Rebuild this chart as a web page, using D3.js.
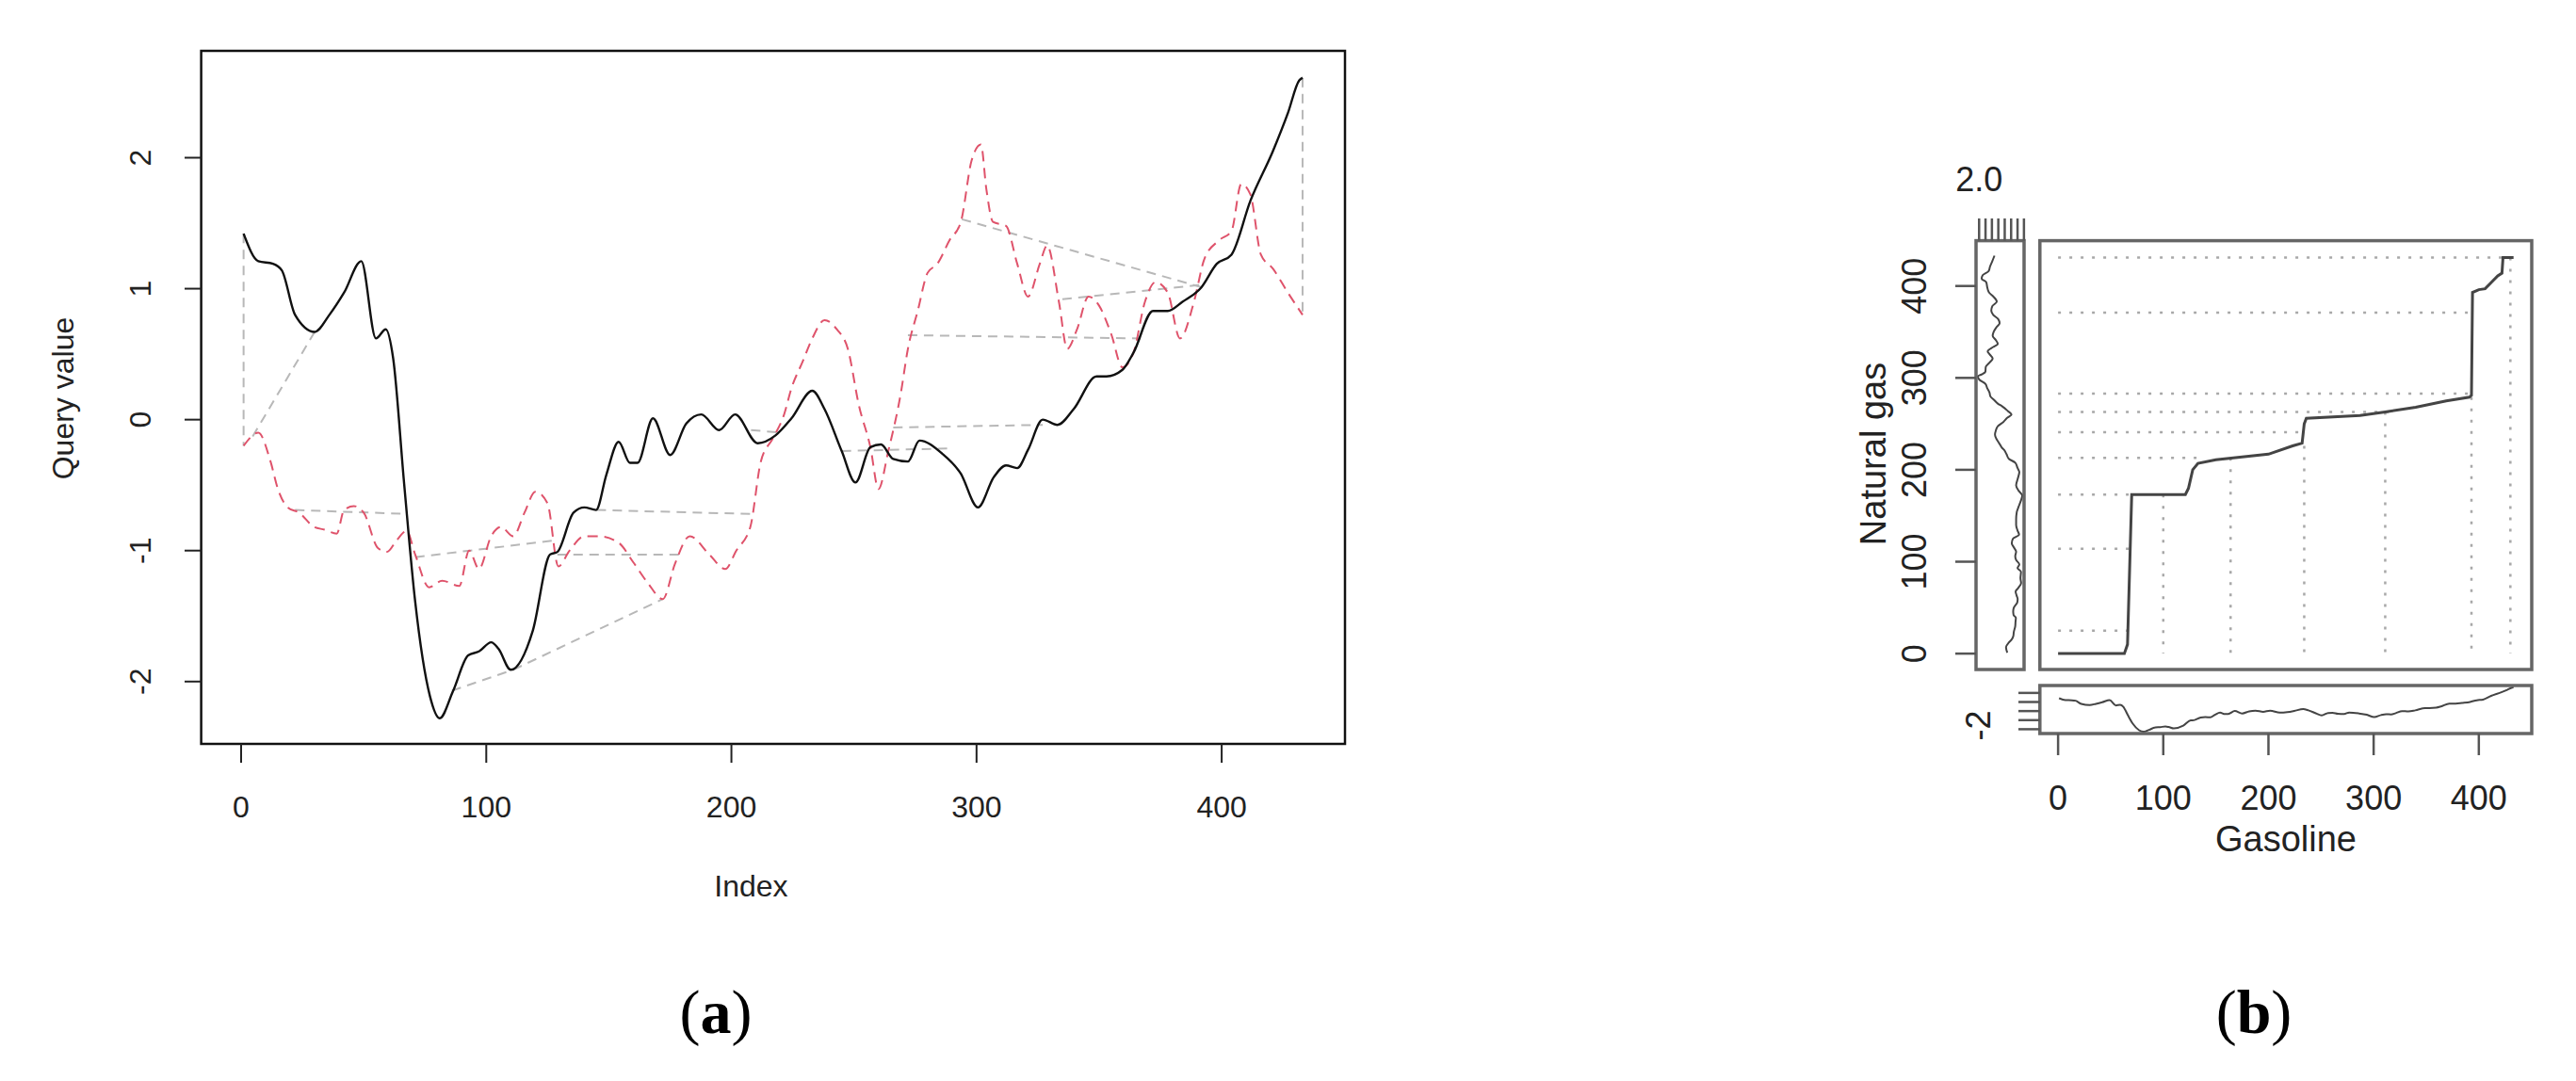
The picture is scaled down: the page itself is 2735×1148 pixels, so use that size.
<!DOCTYPE html>
<html><head><meta charset="utf-8">
<script src="https://cdn.jsdelivr.net/npm/d3@7"></script>
<style>body{margin:0;background:#fff}svg{display:block}text{font-family:"Liberation Sans",Arial,sans-serif}text.lab{font-family:"Liberation Serif","Times New Roman",serif}</style>
</head><body>
<svg id="c" width="2735" height="1148"></svg>
<script>
// Query (gasoline, black) series: index / value
const queryIdx = [1,7,13,16.6,22,30,36,42,49,55,59,62,66.5,71,77,81,86.5,92.6,97,102,105,110,119,126,129,135.6,140,144.8,149,154,158.6,161.7,168,175,181.6,187.7,195,201.5,210.7,218,224.5,233,238,245,250.6,256.7,261,266,272,276.7,286,293.5,300.6,307,312,316.6,321,327,333,339.6,349,353,359.5,364,372,378,384,391.7,398,404,411.7,420.9,427,431.6,433];
const queryVal = [1.42,1.21,1.19,1.14,0.80,0.67,0.80,0.97,1.21,0.62,0.69,0.47,-0.49,-1.39,-2.11,-2.28,-2.07,-1.80,-1.77,-1.70,-1.75,-1.91,-1.61,-1.03,-1.01,-0.71,-0.67,-0.69,-0.42,-0.17,-0.33,-0.33,0.01,-0.27,-0.03,0.04,-0.08,0.04,-0.18,-0.12,0.01,0.22,0.08,-0.24,-0.48,-0.21,-0.19,-0.30,-0.32,-0.16,-0.26,-0.41,-0.67,-0.44,-0.35,-0.37,-0.23,0.00,-0.04,0.08,0.33,0.33,0.38,0.51,0.83,0.83,0.90,1.01,1.19,1.26,1.67,2.05,2.34,2.59,2.61];
// Reference (natural gas, red dashed) series
const refIdx = [1,7,12,15,19,23.6,29.8,34,39,42,46,50,55.8,59.5,63.5,67.5,71,76.7,82,89,93,97,102,106,111,115.6,120,125,129.4,134,140,146,154,160,166,172,177,183,191,197.5,202,207.7,212,217,221.5,224.5,229,233,238,243,247.5,252,256.7,260,264,269,272,276,280,284,289,293.6,298,301.8,304,306.7,312,316.6,321,325.8,328.8,333.6,337,341,345.7,350,355,359.5,364,368.7,373,378,383,388.7,393,399,404,408,411.7,416,421,427,433];
const refVal = [-0.20,-0.10,-0.32,-0.53,-0.67,-0.71,-0.82,-0.84,-0.87,-0.69,-0.66,-0.71,-0.98,-1.01,-0.92,-0.85,-1.03,-1.28,-1.23,-1.27,-1.00,-1.14,-0.89,-0.82,-0.89,-0.71,-0.55,-0.64,-1.12,-1.00,-0.89,-0.89,-0.94,-1.09,-1.25,-1.37,-1.10,-0.89,-1.03,-1.14,-1.00,-0.82,-0.32,-0.14,0.04,0.24,0.44,0.62,0.76,0.69,0.54,0.11,-0.21,-0.53,-0.24,0.19,0.54,0.83,1.12,1.19,1.37,1.51,1.98,2.10,1.76,1.51,1.48,1.19,0.94,1.19,1.33,0.90,0.54,0.69,0.94,0.87,0.65,0.40,0.51,0.90,1.05,0.97,0.62,0.90,1.23,1.37,1.44,1.80,1.72,1.26,1.15,0.97,0.80];
// DTW match connectors in panel (a): [index1, value1, index2, value2]
const connectors = [[1,1.42,1,-0.20],[30,0.67,4,-0.15],[22,-0.69,68,-0.72],[71,-1.05,129,-0.92],[129,-1.03,180,-1.03],[145,-0.69,208,-0.72],[86,-2.07,111,-1.91],[111,-1.91,172,-1.37],[208,-0.08,221,-0.10],[245,-0.24,288,-0.22],[266,-0.06,327,-0.04],[272,0.645,367,0.62],[294,1.53,392,1.01],[335,0.92,392,1.03],[433,2.61,433,0.80]];
// Warping path in panel (b): gasoline index / natural gas index
const warpX = [0,63,66,70,121,124,128,133,150,200,223,232,234,236,287,311,340,369,391,393,394,400,406,412,418,422,423,433];
const warpY = [0,0,10,173,173,180,200,207,211,217,226,229,250,256,259,263,268,275,279,281,393,396,397,404,411,414,431,431];
// Dotted guides in panel (b)
const hGuideY = [431,371,283,263,241,213,173,114,25];
const hGuideEnd = [425,393,391,320,234,133,70,70,68];
const vGuideX = [100,164,234,311,393,430];
const vGuideTop = [173,213,226,263,279,431];
const tickA_X = [0,100,200,300,400], tickA_Y = [-2,-1,0,1,2];
const tickB = [0,100,200,300,400];
const tickLeftTop = [2.0,1.5,1.0,0.5,0.0,-0.5,-1.0,-1.5];
const tickBottomLeft = [-2,-1,0,1,2];

const svg = d3.select("#c");
const q = queryIdx.map((d,i)=>[d,queryVal[i]]);
const r = refIdx.map((d,i)=>[d,refVal[i]]);

// ---------- Panel (a)
const xA = d3.scaleLinear().domain([-16.3,450.3]).range([213.6,1428]);
const yA = d3.scaleLinear().domain([-2.476,2.816]).range([790,54]);
const gA = svg.append("g");
const lineA = d3.line().x(d=>xA(d[0])).y(d=>yA(d[1])).curve(d3.curveMonotoneX);
gA.selectAll("line.con").data(connectors).join("line")
  .attr("x1",d=>xA(d[0])).attr("y1",d=>yA(d[1])).attr("x2",d=>xA(d[2])).attr("y2",d=>yA(d[3]))
  .attr("stroke","#b8b8b8").attr("stroke-width",2).attr("stroke-dasharray","10,7");
gA.append("path").datum(r).attr("d",lineA).attr("fill","none").attr("stroke","#df536b").attr("stroke-width",2).attr("stroke-dasharray","11,7");
gA.append("path").datum(q).attr("d",lineA).attr("fill","none").attr("stroke","#111").attr("stroke-width",2.4);
gA.append("rect").attr("x",213.6).attr("y",54).attr("width",1428-213.6).attr("height",736).attr("fill","none").attr("stroke","#111").attr("stroke-width",2.5);
gA.selectAll("line.xt").data(tickA_X).join("line").attr("x1",d=>xA(d)).attr("x2",d=>xA(d)).attr("y1",790).attr("y2",810).attr("stroke","#222").attr("stroke-width",2);
gA.selectAll("text.xt").data(tickA_X).join("text").attr("x",d=>xA(d)).attr("y",868).attr("text-anchor","middle").attr("font-size",32).attr("fill","#222").text(d=>d);
gA.selectAll("line.yt").data(tickA_Y).join("line").attr("y1",d=>yA(d)).attr("y2",d=>yA(d)).attr("x1",196).attr("x2",213.6).attr("stroke","#222").attr("stroke-width",2);
gA.selectAll("text.yt").data(tickA_Y).join("text").attr("transform",d=>`translate(160,${yA(d)}) rotate(-90)`).attr("text-anchor","middle").attr("font-size",32).attr("fill","#222").text(d=>d);
gA.append("text").attr("x",xA(208)).attr("y",952).attr("text-anchor","middle").attr("font-size",32).attr("fill","#222").text("Index");
gA.append("text").attr("transform","translate(78,423) rotate(-90)").attr("text-anchor","middle").attr("font-size",32).attr("fill","#222").text("Query value");
const la = gA.append("text").attr("class","lab").attr("x",760).attr("y",1097).attr("text-anchor","middle").attr("font-size",66).attr("fill","#000");
la.append("tspan").text("(");la.append("tspan").attr("font-weight","bold").text("a");la.append("tspan").text(")");

// ---------- Panel (b)
const xB = d3.scaleLinear().domain([-17.3,450.3]).range([2165.8,2688]);
const yB = d3.scaleLinear().domain([-17.3,449.3]).range([711,255.6]);
const gB = svg.append("g");
const dot = {stroke:"#a8a8a8",w:2.5,dash:"3,9"};
gB.selectAll("line.hg").data(hGuideY).join("line").attr("x1",xB(0)).attr("x2",(d,i)=>xB(hGuideEnd[i])).attr("y1",d=>yB(d)).attr("y2",d=>yB(d))
  .attr("stroke",dot.stroke).attr("stroke-width",dot.w).attr("stroke-dasharray",dot.dash);
gB.selectAll("line.vg").data(vGuideX).join("line").attr("x1",d=>xB(d)).attr("x2",d=>xB(d)).attr("y1",(d,i)=>yB(vGuideTop[i])).attr("y2",yB(0))
  .attr("stroke",dot.stroke).attr("stroke-width",dot.w).attr("stroke-dasharray",dot.dash);
gB.append("path").datum(warpX.map((d,i)=>[d,warpY[i]])).attr("d",d3.line().x(d=>xB(d[0])).y(d=>yB(d[1])))
  .attr("fill","none").attr("stroke","#444").attr("stroke-width",3);
gB.append("rect").attr("x",2165.8).attr("y",255.6).attr("width",2688-2165.8).attr("height",711-255.6).attr("fill","none").attr("stroke","#666").attr("stroke-width",3.5);
// left marginal (reference)
const xL = d3.scaleLinear().domain([2.24,-1.51]).range([2098,2149]);
gB.append("path").datum(r).attr("d",d3.line().x(d=>xL(d[1])).y(d=>yB(d[0])).curve(d3.curveMonotoneY))
  .attr("fill","none").attr("stroke","#444").attr("stroke-width",2);
gB.append("rect").attr("x",2098).attr("y",255.6).attr("width",51).attr("height",711-255.6).attr("fill","none").attr("stroke","#666").attr("stroke-width",3.5);
gB.selectAll("line.lt").data(tickLeftTop).join("line").attr("x1",d=>xL(d)).attr("x2",d=>xL(d)).attr("y1",232).attr("y2",255.6).attr("stroke","#555").attr("stroke-width",2.5);
gB.append("text").attr("x",xL(2.0)).attr("y",203).attr("text-anchor","middle").attr("font-size",36).attr("fill","#222").text("2.0");
gB.selectAll("line.ly").data(tickB).join("line").attr("y1",d=>yB(d)).attr("y2",d=>yB(d)).attr("x1",2076).attr("x2",2098).attr("stroke","#555").attr("stroke-width",2.5);
gB.selectAll("text.ly").data(tickB).join("text").attr("transform",d=>`translate(2045,${yB(d)}) rotate(-90)`).attr("text-anchor","middle").attr("font-size",36).attr("fill","#222").text(d=>d);
gB.append("text").attr("transform","translate(2002,482) rotate(-90)").attr("text-anchor","middle").attr("font-size",38).attr("fill","#222").text("Natural gas");
// bottom marginal (query)
const yBot = d3.scaleLinear().domain([-2.476,2.816]).range([779,728]);
gB.append("path").datum(q).attr("d",d3.line().x(d=>xB(d[0])).y(d=>yBot(d[1])).curve(d3.curveMonotoneX))
  .attr("fill","none").attr("stroke","#444").attr("stroke-width",2);
gB.append("rect").attr("x",2165.8).attr("y",728).attr("width",2688-2165.8).attr("height",51).attr("fill","none").attr("stroke","#666").attr("stroke-width",3.5);
gB.selectAll("line.bl").data(tickBottomLeft).join("line").attr("y1",d=>yBot(d)).attr("y2",d=>yBot(d)).attr("x1",2143).attr("x2",2165.8).attr("stroke","#555").attr("stroke-width",2.5);
gB.append("text").attr("transform",`translate(2113,${yBot(-2)-4}) rotate(-90)`).attr("text-anchor","middle").attr("font-size",36).attr("fill","#222").text("-2");
gB.selectAll("line.bx").data(tickB).join("line").attr("x1",d=>xB(d)).attr("x2",d=>xB(d)).attr("y1",779).attr("y2",802).attr("stroke","#555").attr("stroke-width",2.5);
gB.selectAll("text.bx").data(tickB).join("text").attr("x",d=>xB(d)).attr("y",860).attr("text-anchor","middle").attr("font-size",36).attr("fill","#222").text(d=>d);
gB.append("text").attr("x",2427).attr("y",904).attr("text-anchor","middle").attr("font-size",38).attr("fill","#222").text("Gasoline");
const lb = gB.append("text").attr("class","lab").attr("x",2393).attr("y",1097).attr("text-anchor","middle").attr("font-size",66).attr("fill","#000");
lb.append("tspan").text("(");lb.append("tspan").attr("font-weight","bold").text("b");lb.append("tspan").text(")");
</script>
</body></html>
